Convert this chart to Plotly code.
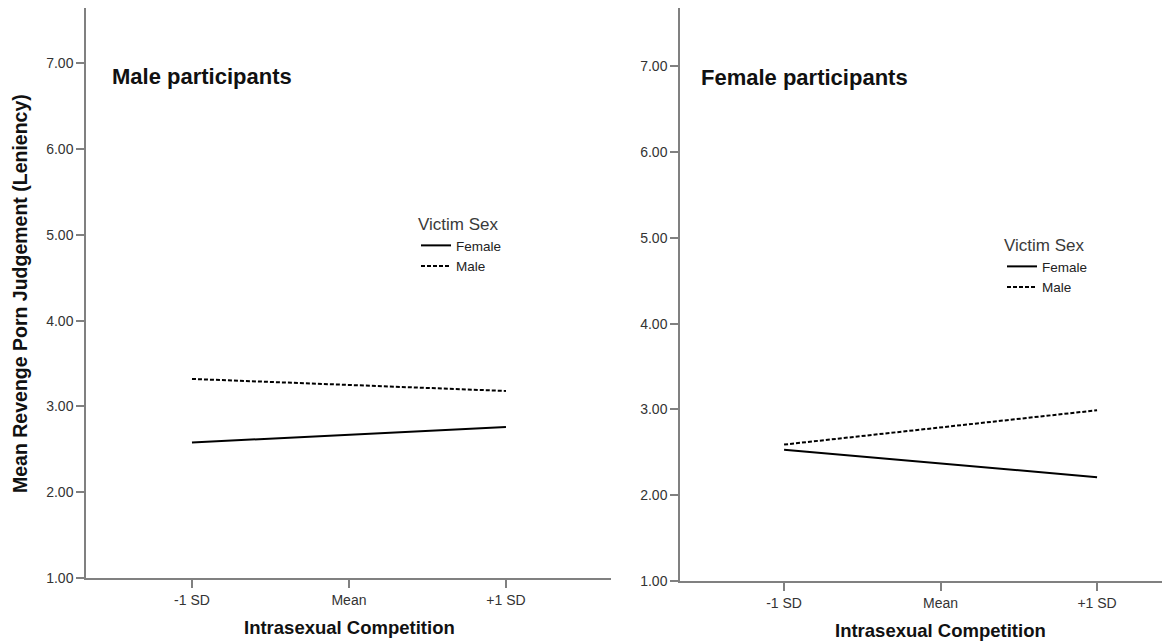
import plotly.graph_objects as go

# ---- data ----
categories = ["-1 SD", "Mean", "+1 SD"]
left_female = [2.58, 2.67, 2.76]
left_male = [3.32, 3.25, 3.18]
right_female = [2.53, 2.37, 2.21]
right_male = [2.59, 2.79, 2.99]
y_ticks = [1, 2, 3, 4, 5, 6, 7]
y_ticklabels = ["1.00", "2.00", "3.00", "4.00", "5.00", "6.00", "7.00"]
series_names = ["Female", "Male"]

# page has an 8px body margin; figure is placed at (8, 8)
OFF = 8
W, H = 1170 - OFF, 642 - OFF

FONT = "Liberation Sans, Arial, sans-serif"
AX = "#808080"


def fx(p):
    return (p - OFF) / W


def fy(p):
    return 1 - (p - OFF) / H


fig = go.Figure()
x_idx = list(range(len(categories)))

styles = [dict(color="black", width=2), dict(color="black", width=2, dash="4px,2px")]
for (vals, ax, ay, lg) in [((left_female, left_male), "x", "y", "legend"),
                           ((right_female, right_male), "x2", "y2", "legend2")]:
    for name, v, st in zip(series_names, vals, styles):
        fig.add_trace(go.Scatter(x=x_idx, y=v, mode="lines", name=name, line=st,
                                 xaxis=ax, yaxis=ay, legend=lg))

common_x = dict(tickmode="array", tickvals=x_idx, ticktext=categories, showline=True, linecolor=AX,
                linewidth=1.5, ticks="outside", ticklen=8, tickcolor=AX, tickwidth=1.5,
                showgrid=False, zeroline=False, automargin=False,
                tickfont=dict(family=FONT, size=14, color="#333"))
common_y = dict(tickmode="array", tickvals=y_ticks, ticktext=y_ticklabels, showline=True, linecolor=AX,
                linewidth=1.5, ticks="outside", ticklen=8, tickcolor=AX, tickwidth=1.5,
                showgrid=False, zeroline=False, automargin=False,
                tickfont=dict(family=FONT, size=14, color="#333"))

legend_common = dict(xanchor="left", yanchor="top", bgcolor="rgba(0,0,0,0)",
                     title=dict(text="Victim Sex", font=dict(family=FONT, size=17, color="#3a3a3a")),
                     font=dict(family=FONT, size=13.5, color="#222"),
                     itemwidth=30, tracegroupgap=0)

fig.update_layout(
    width=W, height=H,
    margin=dict(l=0, r=0, t=0, b=0),
    paper_bgcolor="white", plot_bgcolor="white",
    showlegend=True,
    xaxis=dict(**common_x, domain=[fx(86), fx(611)], range=[-0.675, 2.669], anchor="y"),
    yaxis=dict(**common_y, domain=[fy(578), fy(8)], range=[1, 1 + 570 / 85.8], anchor="x"),
    xaxis2=dict(**common_x, domain=[fx(680), 1.0], range=[-0.665, 2.466], anchor="y2"),
    yaxis2=dict(**common_y, domain=[fy(581), fy(8)], range=[1, 1 + 573 / 85.8], anchor="x2"),
    legend=dict(**legend_common, x=fx(416), y=fy(208)),
    legend2=dict(**legend_common, x=fx(1002), y=fy(229)),
    annotations=[
        dict(text="<b>Male participants</b>", x=fx(110), y=fy(76), xref="paper", yref="paper",
             xanchor="left", yanchor="middle", showarrow=False, font=dict(family=FONT, size=22, color="#111")),
        dict(text="<b>Female participants</b>", x=fx(699), y=fy(77), xref="paper", yref="paper",
             xanchor="left", yanchor="middle", showarrow=False, font=dict(family=FONT, size=22, color="#111")),
        dict(text="<b>Intrasexual Competition</b>", x=fx(349), y=fy(627), xref="paper", yref="paper",
             xanchor="center", yanchor="middle", showarrow=False, font=dict(family=FONT, size=18.5, color="#111")),
        dict(text="<b>Intrasexual Competition</b>", x=fx(940), y=fy(630), xref="paper", yref="paper",
             xanchor="center", yanchor="middle", showarrow=False, font=dict(family=FONT, size=18.5, color="#111")),
        dict(text="<b>Mean Revenge Porn Judgement (Leniency)</b>", x=fx(20), y=fy(294), xref="paper",
             yref="paper", xanchor="center", yanchor="middle", textangle=-90, showarrow=False,
             font=dict(family=FONT, size=19.5, color="#111")),
    ],
)

fig.write_html("out.html")
